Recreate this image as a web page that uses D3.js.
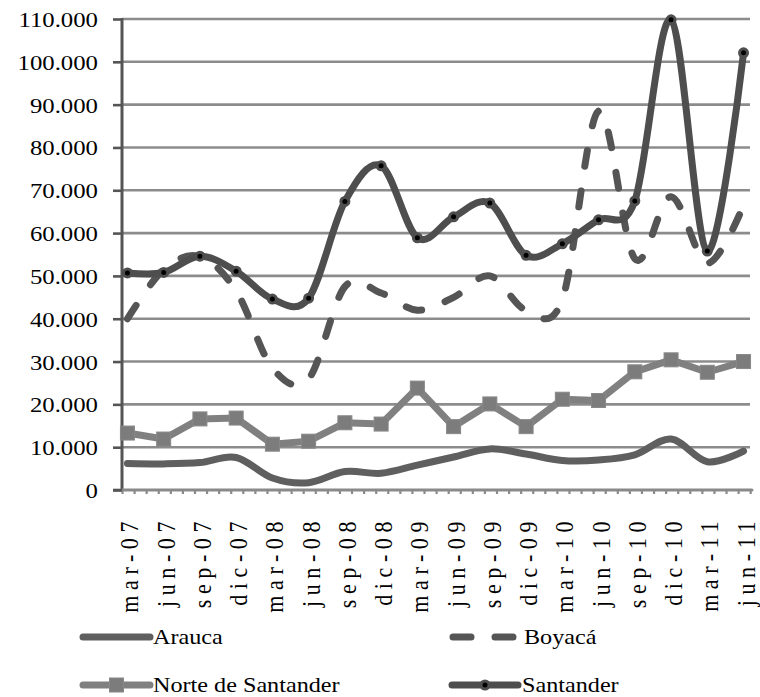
<!DOCTYPE html>
<html><head><meta charset="utf-8">
<script src="https://cdn.jsdelivr.net/npm/d3@7"></script>
<style>
html,body{margin:0;padding:0;background:#fff;}
svg{display:block;}
svg text{font-family:'Liberation Serif',serif;fill:#000;}
</style></head>
<body>
<svg id="chart" width="760" height="697"></svg>
<script>
const categories = ["mar-07","jun-07","sep-07","dic-07","mar-08","jun-08","sep-08","dic-08","mar-09","jun-09","sep-09","dic-09","mar-10","jun-10","sep-10","dic-10","mar-11","jun-11"];
const arauca    = [6200, 6100, 6400, 7600, 2800, 1700, 4300, 3900, 5800, 7700, 9600, 8400, 6900, 7000, 8200, 11900, 6600, 9100];
const boyaca    = [40000, 51500, 54500, 46500, 28500, 26000, 47500, 46000, 42000, 45000, 50000, 42000, 44500, 88500, 54000, 68500, 53000, 66500];
const norte     = [13300, 11900, 16600, 16800, 10700, 11400, 15700, 15400, 23800, 14800, 20100, 14800, 21200, 20900, 27600, 30400, 27500, 30000];
const santander = [50700, 50800, 54600, 51100, 44600, 44800, 67400, 75700, 58900, 63800, 67000, 54800, 57500, 63100, 67500, 109800, 55800, 102100];
const yTicks = [0,10000,20000,30000,40000,50000,60000,70000,80000,90000,100000,110000];
const seriesNames = ["Arauca","Boyacá","Norte de Santander","Santander"];

const FONT = "'Liberation Serif',serif";
const svg = d3.select("#chart");
const monthOf = i => i * 3;            // quarterly data on a monthly date axis
const nMonths = monthOf(categories.length - 1);
const x = d3.scaleLinear().domain([-0.45, nMonths + 0.7]).range([122, 752]);
const y = d3.scaleLinear().domain([0, 110000]).range([490, 19]);

// gridlines
svg.append("g").selectAll("line").data(yTicks.filter(d => d > 0)).join("line")
  .attr("x1", 122).attr("x2", 750).attr("y1", d => y(d)).attr("y2", d => y(d))
  .attr("stroke", "#8c8c8c").attr("stroke-width", 2.6);

// y axis
const fmt = d => d === 0 ? "0" : d3.format(",")(d).replace(/,/g, ".");
const yAxis = svg.append("g").attr("transform", "translate(122,0)")
  .call(d3.axisLeft(y).tickValues(yTicks).tickSize(9).tickFormat(fmt));
yAxis.select(".domain").remove();
yAxis.selectAll(".tick line").attr("stroke", "#555").attr("stroke-width", 2.6);
yAxis.selectAll(".tick text").remove();
yAxis.append("line").attr("x1", 0).attr("x2", 0).attr("y1", y(110000) - 1).attr("y2", y(0))
  .attr("stroke", "#555").attr("stroke-width", 3);
svg.append("g").selectAll("text").data(yTicks).join("text")
  .attr("transform", d => `translate(98,${y(d) + 8}) scale(1.18,1)`)
  .attr("text-anchor", "end").attr("font-family", FONT).attr("font-size", 21).text(fmt);

// x axis: monthly minor ticks
const xAxisG = svg.append("g").attr("transform", "translate(0,490)");
xAxisG.append("line").attr("x1", 122).attr("x2", 752).attr("y1", 0).attr("y2", 0)
  .attr("stroke", "#8a8a8a").attr("stroke-width", 3).attr("stroke-linecap", "round");
const minor = d3.range(0, nMonths + 2).map(k => -0.45 + k);
xAxisG.call(d3.axisBottom(x).tickValues(minor).tickSize(4).tickFormat(""))
  .select(".domain").remove();
xAxisG.selectAll(".tick line").attr("stroke", "#8a8a8a").attr("stroke-width", 2.2);
svg.append("line").attr("x1", 113).attr("x2", 122).attr("y1", 490).attr("y2", 490)
  .attr("stroke", "#555").attr("stroke-width", 2.6);

// x labels
svg.append("g").selectAll("text").data(categories).join("text")
  .attr("transform", (d, i) => `translate(${x(monthOf(i)) + 11},${516}) scale(1.18,1) rotate(-90)`)
  .attr("text-anchor", "end").attr("font-family", FONT).attr("font-size", 22)
  .style("letter-spacing", "5.6px").text(d => d);

// lines
const line = d3.line().x((d, i) => x(monthOf(i))).y(d => y(d));
const smooth = d3.line().x((d, i) => x(monthOf(i))).y(d => y(d)).curve(d3.curveCatmullRom.alpha(0));

svg.append("path").datum(arauca).attr("d", smooth).attr("fill", "none")
  .attr("stroke", "#5f5f5f").attr("stroke-width", 7).attr("stroke-linecap", "round").attr("stroke-linejoin", "round");
svg.append("path").datum(boyaca).attr("d", smooth).attr("fill", "none")
  .attr("stroke", "#555").attr("stroke-width", 7).attr("stroke-linecap", "round")
  .attr("stroke-dasharray", "16 25");
svg.append("path").datum(norte).attr("d", line).attr("fill", "none")
  .attr("stroke", "#808080").attr("stroke-width", 7).attr("stroke-linejoin", "round");
svg.append("g").selectAll("rect").data(norte).join("rect")
  .attr("x", (d, i) => x(monthOf(i)) - 7).attr("y", d => y(d) - 7)
  .attr("width", 14).attr("height", 14).attr("fill", "#7c7c7c").attr("stroke", "#888").attr("stroke-width", 1);
svg.append("path").datum(santander).attr("d", smooth).attr("fill", "none")
  .attr("stroke", "#4e4e4e").attr("stroke-width", 7).attr("stroke-linecap", "round").attr("stroke-linejoin", "round");
svg.append("g").selectAll("circle").data(santander).join("circle")
  .attr("cx", (d, i) => x(monthOf(i))).attr("cy", d => y(d)).attr("r", 4)
  .attr("fill", "#000").attr("stroke", "#4e4e4e").attr("stroke-width", 3);

// legend
const lg = svg.append("g");
const L = [
  {name: seriesNames[0], x0: 83, x1: 150, y: 637, tx: 153},
  {name: seriesNames[1], x0: 450, x1: 516, y: 637, tx: 524},
  {name: seriesNames[2], x0: 83, x1: 150, y: 685, tx: 153},
  {name: seriesNames[3], x0: 452, x1: 518, y: 685, tx: 522}
];
lg.append("line").attr("x1", L[0].x0).attr("x2", L[0].x1).attr("y1", L[0].y).attr("y2", L[0].y)
  .attr("stroke", "#5f5f5f").attr("stroke-width", 7).attr("stroke-linecap", "round");
lg.append("line").attr("x1", L[1].x0 + 3).attr("x2", L[1].x1 - 3).attr("y1", L[1].y).attr("y2", L[1].y)
  .attr("stroke", "#555").attr("stroke-width", 7).attr("stroke-linecap", "round").attr("stroke-dasharray", "18 24");
lg.append("line").attr("x1", L[2].x0).attr("x2", L[2].x1).attr("y1", L[2].y).attr("y2", L[2].y)
  .attr("stroke", "#808080").attr("stroke-width", 7).attr("stroke-linecap", "round");
lg.append("rect").attr("x", (L[2].x0 + L[2].x1) / 2 - 7).attr("y", L[2].y - 7).attr("width", 14).attr("height", 14)
  .attr("fill", "#7c7c7c").attr("stroke", "#888");
lg.append("line").attr("x1", L[3].x0).attr("x2", L[3].x1).attr("y1", L[3].y).attr("y2", L[3].y)
  .attr("stroke", "#4e4e4e").attr("stroke-width", 7).attr("stroke-linecap", "round");
lg.append("circle").attr("cx", (L[3].x0 + L[3].x1) / 2).attr("cy", L[3].y).attr("r", 4)
  .attr("fill", "#000").attr("stroke", "#4e4e4e").attr("stroke-width", 3);
lg.selectAll("text").data(L).join("text")
  .attr("transform", d => `translate(${d.tx},${d.y + 7}) scale(1.18,1)`)
  .attr("font-family", FONT).attr("font-size", 20.5).text(d => d.name);
</script>
</body></html>
